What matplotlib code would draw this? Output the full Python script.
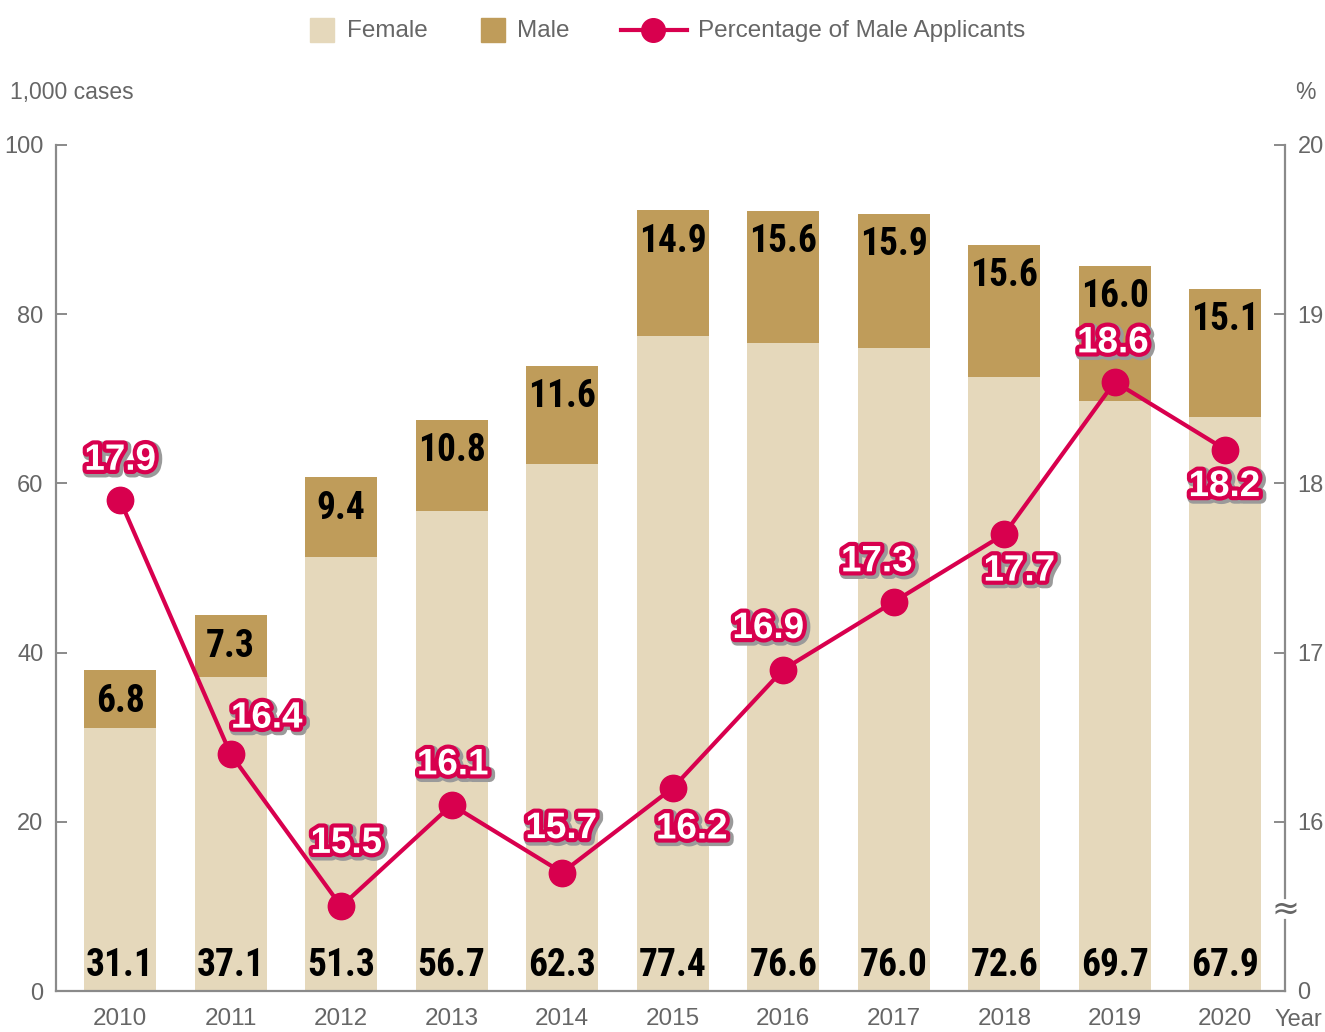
import matplotlib
matplotlib.use("Agg")
import matplotlib.pyplot as plt
import matplotlib.patheffects as pe
from matplotlib.patches import Rectangle
from matplotlib.lines import Line2D

years = ["2010", "2011", "2012", "2013", "2014", "2015", "2016", "2017", "2018", "2019", "2020"]
female = [31.1, 37.1, 51.3, 56.7, 62.3, 77.4, 76.6, 76.0, 72.6, 69.7, 67.9]
male = [6.8, 7.3, 9.4, 10.8, 11.6, 14.9, 15.6, 15.9, 15.6, 16.0, 15.1]
pct_male = [17.9, 16.4, 15.5, 16.1, 15.7, 16.2, 16.9, 17.3, 17.7, 18.6, 18.2]
left_ticks = [0, 20, 40, 60, 80, 100]
right_ticks = [15, 16, 17, 18, 19, 20]
right_ticklabels = ["0", "16", "17", "18", "19", "20"]

# label offsets (pixels) for percentage labels
pct_offsets = [(0, 40), (36, 36), (5, 63), (1, 40), (-1, 44), (19, -41),
               (-15, 41), (-17, 40), (15, -37), (-2, 39), (-1, -37)]

C_FEMALE = "#e5d8bb"
C_MALE = "#bf9c5a"
C_LINE = "#d8004e"
C_AXIS = "#8a8a8a"
C_TEXT = "#666666"

plt.rcParams['font.family'] = ['Liberation Sans', 'DejaVu Sans']
NARROW = ['Liberation Sans Narrow', 'Roboto Condensed', 'DejaVu Sans Condensed', 'Liberation Sans', 'DejaVu Sans']

W, H = 1325, 1032
fig = plt.figure(figsize=(W / 100, H / 100), dpi=100)
L, R, B, T = 56, 1285, 991, 145
ax = fig.add_axes([L / W, 1 - B / H, (R - L) / W, (B - T) / H])

x = list(range(len(years)))
ax.bar(x, female, width=0.65, color=C_FEMALE, zorder=1)
ax.bar(x, male, width=0.65, bottom=female, color=C_MALE, zorder=1)
ax.set_xlim(-0.58, 10.54)
ax.set_ylim(0, 100)
ax.set_yticks(left_ticks)
ax.set_xticks(x)
ax.set_xticklabels(years)
for s in ["top", "right"]:
    ax.spines[s].set_visible(False)
for s in ["left", "bottom"]:
    ax.spines[s].set_color(C_AXIS)
    ax.spines[s].set_linewidth(1.6)
ax.tick_params(axis="y", direction="in", length=8, width=1.4, color=C_AXIS,
               labelsize=17, labelcolor=C_TEXT, pad=9)
ax.tick_params(axis="x", length=0, labelsize=17.5, labelcolor=C_TEXT, pad=12)

# bar labels
for i in x:
    ax.annotate(f"{female[i]:.1f}", (i, 0), xytext=(0, 26), textcoords="offset pixels",
                ha="center", va="center", fontsize=27, fontweight="bold",
                family=NARROW, color="black", zorder=3)
    top = female[i] + male[i]
    ax.annotate(f"{male[i]:.1f}", (i, top), xytext=(0, -31), textcoords="offset pixels",
                ha="center", va="center", fontsize=27, fontweight="bold",
                family=NARROW, color="black", zorder=3)

# right axis
ax2 = ax.twinx()
ax2.set_ylim(15, 20)
ax2.set_yticks(right_ticks)
ax2.set_yticklabels(right_ticklabels)
for s in ["top", "right", "left", "bottom"]:
    ax2.spines[s].set_visible(False)
ax2.tick_params(axis="y", direction="in", length=8, width=1.4, color=C_AXIS,
                labelsize=17, labelcolor=C_TEXT, pad=9)
tr = ax2.get_yaxis_transform()
ax2.add_line(Line2D([1, 1], [15, 15.42], transform=tr, color=C_AXIS, lw=1.6, clip_on=False))
ax2.add_line(Line2D([1, 1], [15.55, 20], transform=tr, color=C_AXIS, lw=1.6, clip_on=False))
ax2.text(1, 15.485, "≈", transform=tr, ha="center", va="center", fontsize=24,
         color=C_TEXT, family="DejaVu Sans")

ax2.plot(x, pct_male, color=C_LINE, lw=3, marker="o", markersize=19, zorder=4)
effects = [pe.Stroke(linewidth=8, foreground="#9a9a9a", offset=(1.5, -1.5)),
           pe.Stroke(linewidth=6, foreground=C_LINE),
           pe.Normal()]
for i in x:
    dx, dy = pct_offsets[i]
    ax2.annotate(f"{pct_male[i]:.1f}", (i, pct_male[i]), xytext=(dx, dy),
                 textcoords="offset pixels", ha="center", va="center",
                 fontsize=26.5, fontweight="bold", color="white",
                 path_effects=effects, zorder=6)

# axis titles
fig.text(10 / W, 1 - 93 / H, "1,000 cases", fontsize=16.5, color=C_TEXT, ha="left", va="center")
fig.text(1316 / W, 1 - 93 / H, "%", fontsize=16.5, color=C_TEXT, ha="right", va="center")
fig.text(1298 / W, 1 - 1020 / H, "Year", fontsize=17, color=C_TEXT, ha="center", va="center")

# legend (manual)
def fx(px):
    return px / W

def fy(py):
    return 1 - py / H

fig.add_artist(Rectangle((fx(310), fy(42)), 24 / W, 24 / H, transform=fig.transFigure,
                         color=C_FEMALE))
fig.text(fx(347), fy(31), "Female", fontsize=17.5, color=C_TEXT, ha="left", va="center")
fig.add_artist(Rectangle((fx(481), fy(42)), 24 / W, 24 / H, transform=fig.transFigure,
                         color=C_MALE))
fig.text(fx(517), fy(31), "Male", fontsize=17.5, color=C_TEXT, ha="left", va="center")
fig.add_artist(Line2D([fx(621), fx(687)], [fy(30), fy(30)], transform=fig.transFigure,
                      color=C_LINE, lw=3))
fig.add_artist(Line2D([fx(653)], [fy(30)], transform=fig.transFigure, color=C_LINE,
                      marker="o", markersize=17, lw=0))
fig.text(fx(698), fy(31), "Percentage of Male Applicants", fontsize=17.5, color=C_TEXT,
         ha="left", va="center")

fig.savefig("out.png", dpi=100)
